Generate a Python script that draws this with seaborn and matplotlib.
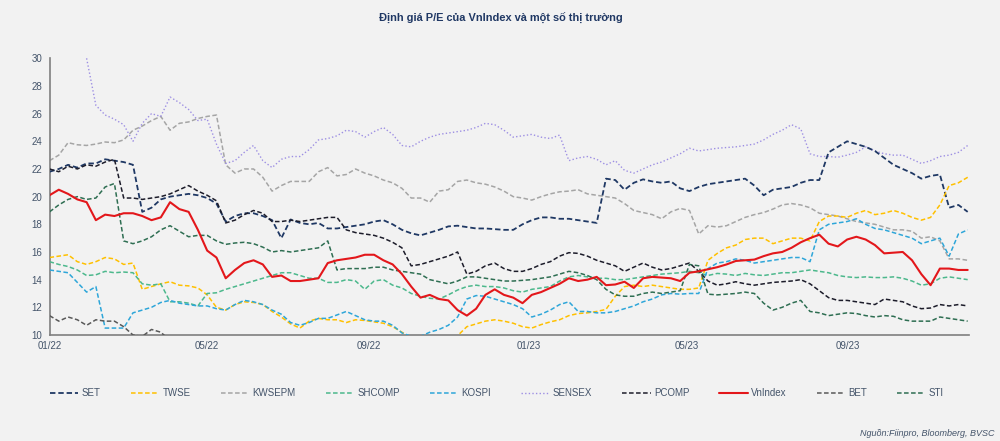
import numpy as np
import pandas as pd
import matplotlib
matplotlib.use("Agg")
import matplotlib.pyplot as plt
import matplotlib.dates as mdates
from matplotlib.lines import Line2D
import seaborn as sns

NaN = np.nan
dates = pd.date_range("2022-01-01", "2023-12-01", periods=100)

SET = [21.8, 22.0, 22.3, 22.1, 22.4, 22.4, 22.7, 22.6, 22.5, 22.3,
       18.9, 19.2, 19.8, 20.0, 20.1, 20.2, 20.1, 19.9, 19.5, 18.2,
       18.6, 18.8, 18.8, 18.6, 18.3, 17.0, 18.35, 18.1, 18.0, 18.1,
       17.7, 17.7, 17.8, 17.9, 18.0, 18.2, 18.3, 18.0, 17.6, 17.35,
       17.2, 17.4, 17.6, 17.85, 17.9, 17.8, 17.7, 17.7, 17.65, 17.6,
       17.6, 18.0, 18.3, 18.5, 18.5, 18.4, 18.4, 18.3, 18.2, 18.1,
       21.3, 21.2, 20.5, 21.0, 21.25, 21.1, 21.0, 21.1, 20.6, 20.4,
       20.7, 20.9, 21.0, 21.1, 21.2, 21.3, 20.8, 20.1, 20.5, 20.6,
       20.7, 21.0, 21.2, 21.2, 23.2, 23.6, 24.0, 23.8, 23.6, 23.3,
       22.8, 22.3, 22.0, 21.7, 21.3, 21.5, 21.6, 19.2, 19.4, 18.9]

TWSE = [15.6, 15.7, 15.8, 15.3, 15.1, 15.3, 15.6, 15.5, 15.1, 15.2,
        13.3, 13.5, 13.7, 13.85, 13.6, 13.55, 13.4, 12.9, 12.0, 11.8,
        12.2, 12.4, 12.35, 12.2, 11.7, 11.3, 10.8, 10.5, 11.0, 11.2,
        11.1, 11.1, 10.9, 11.1, 11.05, 10.95, 10.85, 10.6, 10.2, 9.8,
        9.6, 9.6, 9.7, 9.8, 9.95, 10.6, 10.8, 11.0, 11.1, 11.0,
        10.85, 10.6, 10.5, 10.75, 10.95, 11.1, 11.4, 11.55, 11.6, 11.7,
        11.85, 12.8, 13.5, 13.6, 13.5, 13.6, 13.5, 13.4, 13.3, 13.3,
        13.4, 15.4, 15.9, 16.3, 16.5, 16.9, 17.0, 17.0, 16.6, 16.8,
        17.0, 17.0, 16.8, 18.2, 18.6, 18.6, 18.5, 18.8, 19.0, 18.7,
        18.8, 19.0, 18.8, 18.5, 18.3, 18.5, 19.4, 20.8, 21.0, 21.4]

KWSEPM = [22.6, 23.0, 23.9, 23.75, 23.7, 23.8, 23.95, 23.9, 24.1, 24.8,
          25.1, 25.5, 25.8, 24.8, 25.3, 25.4, 25.65, 25.8, 25.9, 22.3,
          21.7, 22.0, 22.0, 21.4, 20.4, 20.8, 21.1, 21.1, 21.1, 21.8,
          22.1, 21.5, 21.6, 22.0, 21.7, 21.5, 21.2, 21.0, 20.6, 19.9,
          19.9, 19.6, 20.4, 20.5, 21.1, 21.2, 21.0, 20.9, 20.7, 20.4,
          20.0, 19.9, 19.75, 20.0, 20.2, 20.35, 20.4, 20.5, 20.2, 20.1,
          20.0, 19.9, 19.5, 19.0, 18.85, 18.7, 18.4, 18.9, 19.15, 19.0,
          17.3, 17.9, 17.8, 17.9, 18.2, 18.5, 18.7, 18.85, 19.1, 19.4,
          19.5, 19.4, 19.2, 18.8, 18.7, 18.6, 18.4, 18.2, 18.1, 18.0,
          17.8, 17.6, 17.6, 17.5, 17.0, 17.1, 16.8, 15.5, 15.5, 15.4]

SHCOMP = [15.3, 15.1, 14.95, 14.7, 14.3, 14.35, 14.6, 14.5, 14.55, 14.5,
          13.7, 13.6, 13.7, 12.4, 12.4, 12.3, 12.1, 13.0, 13.05, 13.3,
          13.5, 13.7, 13.9, 14.1, 14.3, 14.5, 14.5, 14.3, 14.1, 14.1,
          13.8, 13.8, 14.0, 13.9, 13.3, 13.9, 14.0, 13.6, 13.4, 13.0,
          12.8, 12.65, 12.6, 12.9, 13.25, 13.5, 13.6, 13.5, 13.5, 13.4,
          13.2, 13.1, 13.3, 13.4, 13.5, 13.9, 14.2, 14.3, 14.2, 14.1,
          14.1, 14.0, 14.0, 14.1, 14.2, 14.3, 14.4, 14.45, 14.5, 14.6,
          14.5, 14.3, 14.45, 14.4, 14.3, 14.45, 14.35, 14.3, 14.4, 14.5,
          14.5, 14.6, 14.7, 14.6, 14.5, 14.3, 14.2, 14.15, 14.2, 14.15,
          14.15, 14.2, 14.1, 13.9, 13.6, 13.7, 14.1, 14.2, 14.1, 14.0]

KOSPI = [14.7, 14.6, 14.5, 13.8, 13.1, 13.5, 10.5, 10.5, 10.5, 11.6,
         11.8, 12.0, 12.35, 12.5, 12.3, 12.2, 12.1, 12.1, 11.9, 11.8,
         12.2, 12.5, 12.4, 12.2, 11.8, 11.5, 10.9, 10.7, 10.9, 11.2,
         11.2, 11.45, 11.7, 11.4, 11.1, 11.0, 11.0, 10.7, 10.15, 9.9,
         9.9, 10.2, 10.4, 10.7, 11.3, 12.6, 12.85, 12.8, 12.6, 12.4,
         12.2, 11.9, 11.3, 11.5, 11.8, 12.2, 12.4, 11.7, 11.7, 11.6,
         11.6, 11.7, 11.9, 12.1, 12.4, 12.6, 12.9, 13.0, 12.95, 13.0,
         13.0, 14.8, 15.2, 15.3, 15.5, 15.4, 15.2, 15.3, 15.4, 15.5,
         15.6, 15.6, 15.3, 17.6, 18.0, 18.1, 18.2, 18.4, 18.0, 17.7,
         17.6, 17.4, 17.2, 17.0, 16.6, 16.8, 17.0, 15.7, 17.3, 17.6]

SENSEX = [NaN, NaN, NaN, NaN, 30.0, 26.6, 25.9, 25.6, 25.2, 24.0,
          25.3, 26.0, 25.8, 27.2, 26.8, 26.3, 25.5, 25.6, 23.8, 22.4,
          22.6, 23.2, 23.7, 22.6, 22.1, 22.7, 22.9, 22.9, 23.4, 24.1,
          24.2, 24.4, 24.8, 24.7, 24.3, 24.7, 25.0, 24.5, 23.7, 23.6,
          24.0, 24.3, 24.5, 24.6, 24.7, 24.8, 25.0, 25.3, 25.2, 24.8,
          24.3, 24.4, 24.5, 24.3, 24.2, 24.45, 22.6, 22.8, 22.9, 22.7,
          22.3, 22.6, 21.9, 21.7, 22.0, 22.3, 22.5, 22.8, 23.1, 23.5,
          23.3, 23.4, 23.5, 23.55, 23.6, 23.7, 23.8, 24.1, 24.5, 24.8,
          25.2, 24.9, 23.1, 22.9, 22.9, 22.85, 23.0, 23.2, 23.6, 23.3,
          23.1, 23.0, 23.0, 22.7, 22.4, 22.6, 22.9, 23.0, 23.2, 23.7]

PCOMP = [22.0, 21.8, 22.2, 22.0, 22.3, 22.2, 22.5, 22.7, 19.9, 19.9,
         19.8, 19.9, 20.0, 20.2, 20.5, 20.8, 20.4, 20.1, 19.7, 18.1,
         18.3, 18.7, 19.0, 18.8, 18.2, 18.2, 18.3, 18.2, 18.3, 18.4,
         18.5, 18.5, 17.6, 17.4, 17.3, 17.2, 17.0, 16.7, 16.3, 15.0,
         15.1, 15.3, 15.5, 15.7, 16.0, 14.4, 14.6, 15.0, 15.2, 14.8,
         14.6, 14.6, 14.8, 15.1, 15.3, 15.7, 15.95, 15.9, 15.7, 15.4,
         15.2, 15.0, 14.6, 14.9, 15.2, 14.9, 14.7, 14.8, 15.0, 15.2,
         14.6, 13.9, 13.6, 13.7, 13.85, 13.7, 13.6, 13.7, 13.8, 13.85,
         13.9, 14.0, 13.7, 13.2, 12.7, 12.5, 12.5, 12.4, 12.3, 12.2,
         12.6, 12.5, 12.4, 12.1, 11.9, 11.95, 12.2, 12.1, 12.2, 12.1]

VNINDEX = [20.1, 20.5, 20.2, 19.8, 19.6, 18.3, 18.7, 18.6, 18.8, 18.8,
           18.6, 18.3, 18.5, 19.6, 19.1, 18.9, 17.6, 16.1, 15.6, 14.1,
           14.7, 15.2, 15.4, 15.1, 14.2, 14.3, 13.9, 13.9, 14.0, 14.1,
           15.2, 15.4, 15.5, 15.6, 15.8, 15.8, 15.4, 15.1, 14.4, 13.5,
           12.7, 12.9, 12.6, 12.5, 11.8, 11.4, 11.9, 12.9, 13.3, 12.9,
           12.7, 12.3, 12.9, 13.1, 13.4, 13.7, 14.1, 13.9, 14.0, 14.2,
           13.6, 13.65, 13.85, 13.4, 14.1, 14.2, 14.15, 14.1, 13.9, 14.5,
           14.6, 14.75, 14.9, 15.1, 15.35, 15.4, 15.45, 15.7, 15.9, 16.0,
           16.3, 16.7, 17.0, 17.25, 16.6, 16.4, 16.9, 17.1, 16.9, 16.5,
           15.9, 15.95, 16.0, 15.4, 14.4, 13.6, 14.8, 14.8, 14.7, 14.7]

BET = [11.4, 11.0, 11.3, 11.1, 10.7, 11.1, 11.0, 11.0, 10.6, 10.0,
       9.9, 10.4, 10.2, 9.6, 9.3] + [NaN] * 85

STI = [18.9, 19.4, 19.8, 20.0, 19.8, 19.9, 20.7, 20.95, 16.8, 16.6,
       16.8, 17.1, 17.6, 17.9, 17.5, 17.1, 17.2, 17.2, 16.8, 16.55,
       16.65, 16.7, 16.6, 16.35, 16.0, 16.1, 16.0, 16.1, 16.2, 16.3,
       16.8, 14.7, 14.8, 14.8, 14.8, 14.9, 14.9, 14.7, 14.6, 14.5,
       14.4, 14.0, 13.85, 13.7, 13.9, 14.2, 14.2, 14.1, 14.0, 13.9,
       13.9, 13.95, 14.0, 14.1, 14.2, 14.4, 14.6, 14.5, 14.3, 14.0,
       13.3, 12.9, 12.8, 12.8, 13.0, 13.1, 13.0, 13.1, 13.2, 15.1,
       15.0, 12.95, 12.9, 12.95, 13.0, 13.1, 13.0, 12.3, 11.8, 12.0,
       12.3, 12.5, 11.7, 11.6, 11.4, 11.5, 11.6, 11.55, 11.4, 11.3,
       11.4, 11.35, 11.1, 11.0, 11.0, 11.0, 11.3, 11.2, 11.1, 11.0]

series_names = ["SET", "TWSE", "KWSEPM", "SHCOMP", "KOSPI",
                "SENSEX", "PCOMP", "VnIndex", "BET", "STI"]
series_values = [SET, TWSE, KWSEPM, SHCOMP, KOSPI,
                 SENSEX, PCOMP, VNINDEX, BET, STI]

y_ticks = list(range(10, 31, 2))
title = "Định giá P/E của VnIndex và một số thị trường"
source = "Nguồn:Fiinpro, Bloomberg, BVSC"

styles = {
    "SET":     dict(color="#1f3864", lw=1.3, ls=(0, (3.0, 1.6)), z=3),
    "TWSE":    dict(color="#ffc000", lw=1.1, ls=(0, (3.0, 1.6)), z=3),
    "KWSEPM":  dict(color="#a5a5a5", lw=1.1, ls=(0, (3.0, 1.6)), z=2),
    "SHCOMP":  dict(color="#4cb88c", lw=1.1, ls=(0, (3.0, 1.6)), z=3),
    "KOSPI":   dict(color="#2ea6d9", lw=1.1, ls=(0, (3.0, 1.6)), z=3),
    "SENSEX":  dict(color="#9d8fe3", lw=1.0, ls=(0, (1.0, 1.6)), z=2),
    "PCOMP":   dict(color="#1c1c2a", lw=1.1, ls=(0, (3.0, 1.6)), z=3),
    "VnIndex": dict(color="#e3171b", lw=1.5, ls="-", z=5),
    "BET":     dict(color="#595959", lw=1.1, ls=(0, (3.0, 1.6)), z=3),
    "STI":     dict(color="#2e6e52", lw=1.1, ls=(0, (3.0, 1.6)), z=3),
}

sns.set_style("white")
plt.rcParams["font.family"] = ["Liberation Sans", "DejaVu Sans"]

BG = "#f2f2f2"
TXT = "#44546a"

fig = plt.figure(figsize=(10, 4.41), dpi=100, facecolor=BG)
ax = fig.add_axes([0.0495, 0.2404, 0.9195, 0.6274])
ax.set_facecolor(BG)

handles = []
for name, vals in zip(series_names, series_values):
    st = styles[name]
    df = pd.DataFrame({"date": dates, "pe": vals}).dropna()
    sns.lineplot(data=df, x="date", y="pe", ax=ax, color=st["color"],
                 linewidth=st["lw"], linestyle=st["ls"], zorder=st["z"],
                 estimator=None, errorbar=None, legend=False)
    handles.append(Line2D([0], [0], color=st["color"], lw=st["lw"],
                          ls=st["ls"]))

ax.set_xlim(pd.Timestamp("2022-01-01"), pd.Timestamp("2023-12-02"))
ax.set_ylim(10, 30)
ax.set_yticks(y_ticks)
ax.xaxis.set_major_locator(mdates.MonthLocator(bymonth=[1, 5, 9]))
ax.xaxis.set_major_formatter(mdates.DateFormatter("%m/%y"))
ax.set_xlabel("")
ax.set_ylabel("")

for s in ["top", "right"]:
    ax.spines[s].set_visible(False)
for s in ["left", "bottom"]:
    ax.spines[s].set_color("#7f7f7f")
    ax.spines[s].set_linewidth(1.2)

ax.tick_params(axis="both", which="both", labelsize=7, colors="#7f7f7f",
               labelcolor=TXT, length=3, width=1, direction="out", pad=2)
ax.tick_params(axis="x", direction="inout", length=4)

fig.text(0.501, 0.959, title, ha="center", va="center", fontsize=7.9,
         fontweight="bold", color="#203864")

leg = fig.legend(handles, series_names, loc="center",
                 bbox_to_anchor=(0.497, 0.109), ncol=10, frameon=False,
                 fontsize=7, handlelength=2.9, handletextpad=0.35,
                 columnspacing=3.1, labelcolor=TXT)

fig.text(0.994, 0.016, source, ha="right", va="center", fontsize=6.5,
         style="italic", color=TXT)

fig.savefig("out.png", dpi=100, facecolor=BG)
